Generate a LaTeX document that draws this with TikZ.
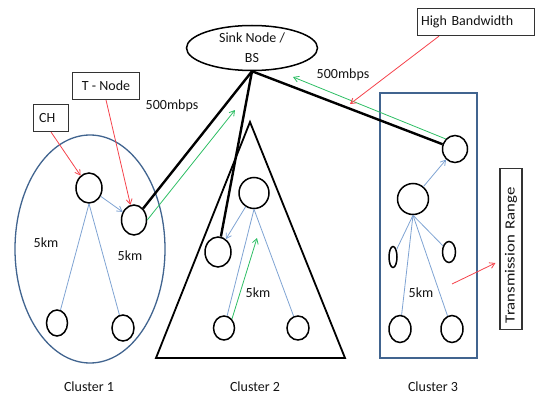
\documentclass[tikz,border=0pt]{standalone}
\usepackage{fontspec}
\setmainfont{Carlito}
\usetikzlibrary{shapes.geometric,arrows.meta}
\definecolor{clusterblue}{HTML}{41648F}
\definecolor{linkblue}{HTML}{7FA3D3}
\definecolor{flowgreen}{HTML}{2DBE64}
\definecolor{notered}{HTML}{F5424B}
\begin{document}
\begin{tikzpicture}[x=1pt,y=-1pt,
  txt/.style={font=\fontsize{14}{17}\selectfont,text=black!92,inner sep=0pt},
  sensor/.style={draw=black,line width=1.5pt,ellipse,inner sep=0pt,fill=white},
  tag/.style={draw=black!80,line width=1.1pt,fill=white,minimum height=27pt,
              inner sep=0pt,font=\fontsize{14}{17}\selectfont,text=black!92},
  region/.style={draw=clusterblue,line width=1.3pt},
  uplink/.style={draw=black,line width=2.4pt},
  intra/.style={draw=linkblue,line width=0.8pt},
  intraarrow/.style={intra,-{Straight Barb[length=5pt,width=6pt]}},
  flow/.style={draw=flowgreen,line width=0.8pt,-{Straight Barb[length=5pt,width=6pt]}},
  pointer/.style={draw=notered,line width=0.8pt,-{Straight Barb[length=5pt,width=6pt]}}]
\useasboundingbox (0,0) rectangle (535,396);

% cluster outlines
\draw[region] (90,249) ellipse [x radius=75, y radius=114];
\draw[black,line width=1.8pt,line join=miter] (156,358) -- (250,122) -- (345,358) -- cycle;
\draw[region] (380,93) rectangle (477,358);

% base station
\node[draw=black,line width=1.5pt,ellipse,minimum width=131pt,minimum height=45pt,
      inner sep=0pt,align=center,font=\fontsize{14}{20}\selectfont,text=black!92]
      (sink) at (252,48) {Sink Node /\\BS};

% sensor nodes, cluster 1
\node[sensor,minimum width=26pt,minimum height=30pt] (c1h) at (89,188) {};
\node[sensor,minimum width=25pt,minimum height=30pt] (c1t) at (134,220) {};
\node[sensor,minimum width=21pt,minimum height=26pt] (c1bl) at (57,323) {};
\node[sensor,minimum width=22pt,minimum height=26pt] (c1br) at (123,328) {};
% cluster 2
\node[sensor,minimum width=30pt,minimum height=31pt] (c2t) at (254,193) {};
\node[sensor,minimum width=26pt,minimum height=30pt] (c2l) at (218,252) {};
\node[sensor,minimum width=21pt,minimum height=24pt] (c2bl) at (224,328) {};
\node[sensor,minimum width=22pt,minimum height=24pt] (c2br) at (298,328) {};
% cluster 3
\node[sensor,minimum width=25pt,minimum height=27pt] (c3t) at (455,149) {};
\node[sensor,minimum width=31pt,minimum height=31pt] (c3m) at (413,199) {};
\node[sensor,minimum width=8pt,minimum height=21pt] (c3l) at (393,257) {};
\node[sensor,minimum width=13pt,minimum height=21pt] (c3r) at (449,252) {};
\node[sensor,minimum width=22pt,minimum height=27pt] (c3bl) at (400,329) {};
\node[sensor,minimum width=22pt,minimum height=27pt] (c3br) at (452,329) {};

% links inside the clusters
\draw[intra] (c1h.south) -- (c1bl);
\draw[intra] (c1h.south) -- (c1br);
\draw[intraarrow] (c1h) -- (c1t);
\draw[intra] (c2t.south) -- (c2bl);
\draw[intra] (c2t.south) -- (c2br);
\draw[intraarrow] (c2t) -- (c2l);
\draw[intra] (c3m.south) -- (c3l);
\draw[intra] (c3m.south) -- (c3r);
\draw[intra] (c3m.south) -- (c3bl);
\draw[intra] (c3m.south) -- (c3br);
\draw[intraarrow] (c3m) -- (c3t);

% uplinks to the base station
\draw[uplink] (c1t) -- (sink.south);
\draw[uplink] (sink.south) -- (c2l);
\draw[uplink] (sink.south) -- (c3t);

% data flow
\coordinate (f1) at (235,110);
\coordinate (f2) at (257,238);
\coordinate (f3) at (293,77);
\draw[flow] (c1t.east) -- (f1);
\draw[flow] (c2bl.north east) -- (f2);
\draw[flow] (c3t.north west) -- (f3);

% annotations
\node[tag,minimum width=35pt,anchor=north west,text width=30pt,align=left] (chbox) at (33,104) {\hspace*{3pt}CH};
\node[tag,minimum width=67pt,anchor=north west] (tbox) at (72,72) {T - Node};
\node[tag,minimum width=117pt,anchor=north west,text width=112pt,align=left] (hbbox) at (417,8) {\hspace*{1pt}High Bandwidth};
\node[draw=black!80,line width=1.1pt,fill=white,rotate=90,minimum width=161pt,
      minimum height=22pt,inner sep=0pt,font=\fontsize{14}{17}\selectfont,text=black!92,
      text width=158pt,align=left]
      (trbox) at (511,249) {\hspace*{5pt}\scalebox{1.2}[1]{Transmission Range}};

\coordinate (hbtip) at (350,104);
\coordinate (trfoot) at (452,284);
\draw[pointer] (chbox.south) -- (c1h);
\draw[pointer] (tbox.south) -- (c1t);
\draw[pointer] ([xshift=-37pt]hbbox.south) -- (hbtip);
\draw[pointer] (trfoot) -- ([xshift=-4pt,yshift=-14pt]trbox.north);

% labels
\node[txt] (rate1) at (172,106) {500mbps};
\node[txt] (rate2) at (343,75) {500mbps};
\node[txt] (d1) at (46,243) {5km};
\node[txt] (d2) at (130,256) {5km};
\node[txt] (d3) at (258,293) {5km};
\node[txt] (d4) at (421,293) {5km};
\node[txt] (cl1) at (89,387) {Cluster 1};
\node[txt] (cl2) at (255,387) {Cluster 2};
\node[txt] (cl3) at (433,387) {Cluster 3};
\end{tikzpicture}
\end{document}
